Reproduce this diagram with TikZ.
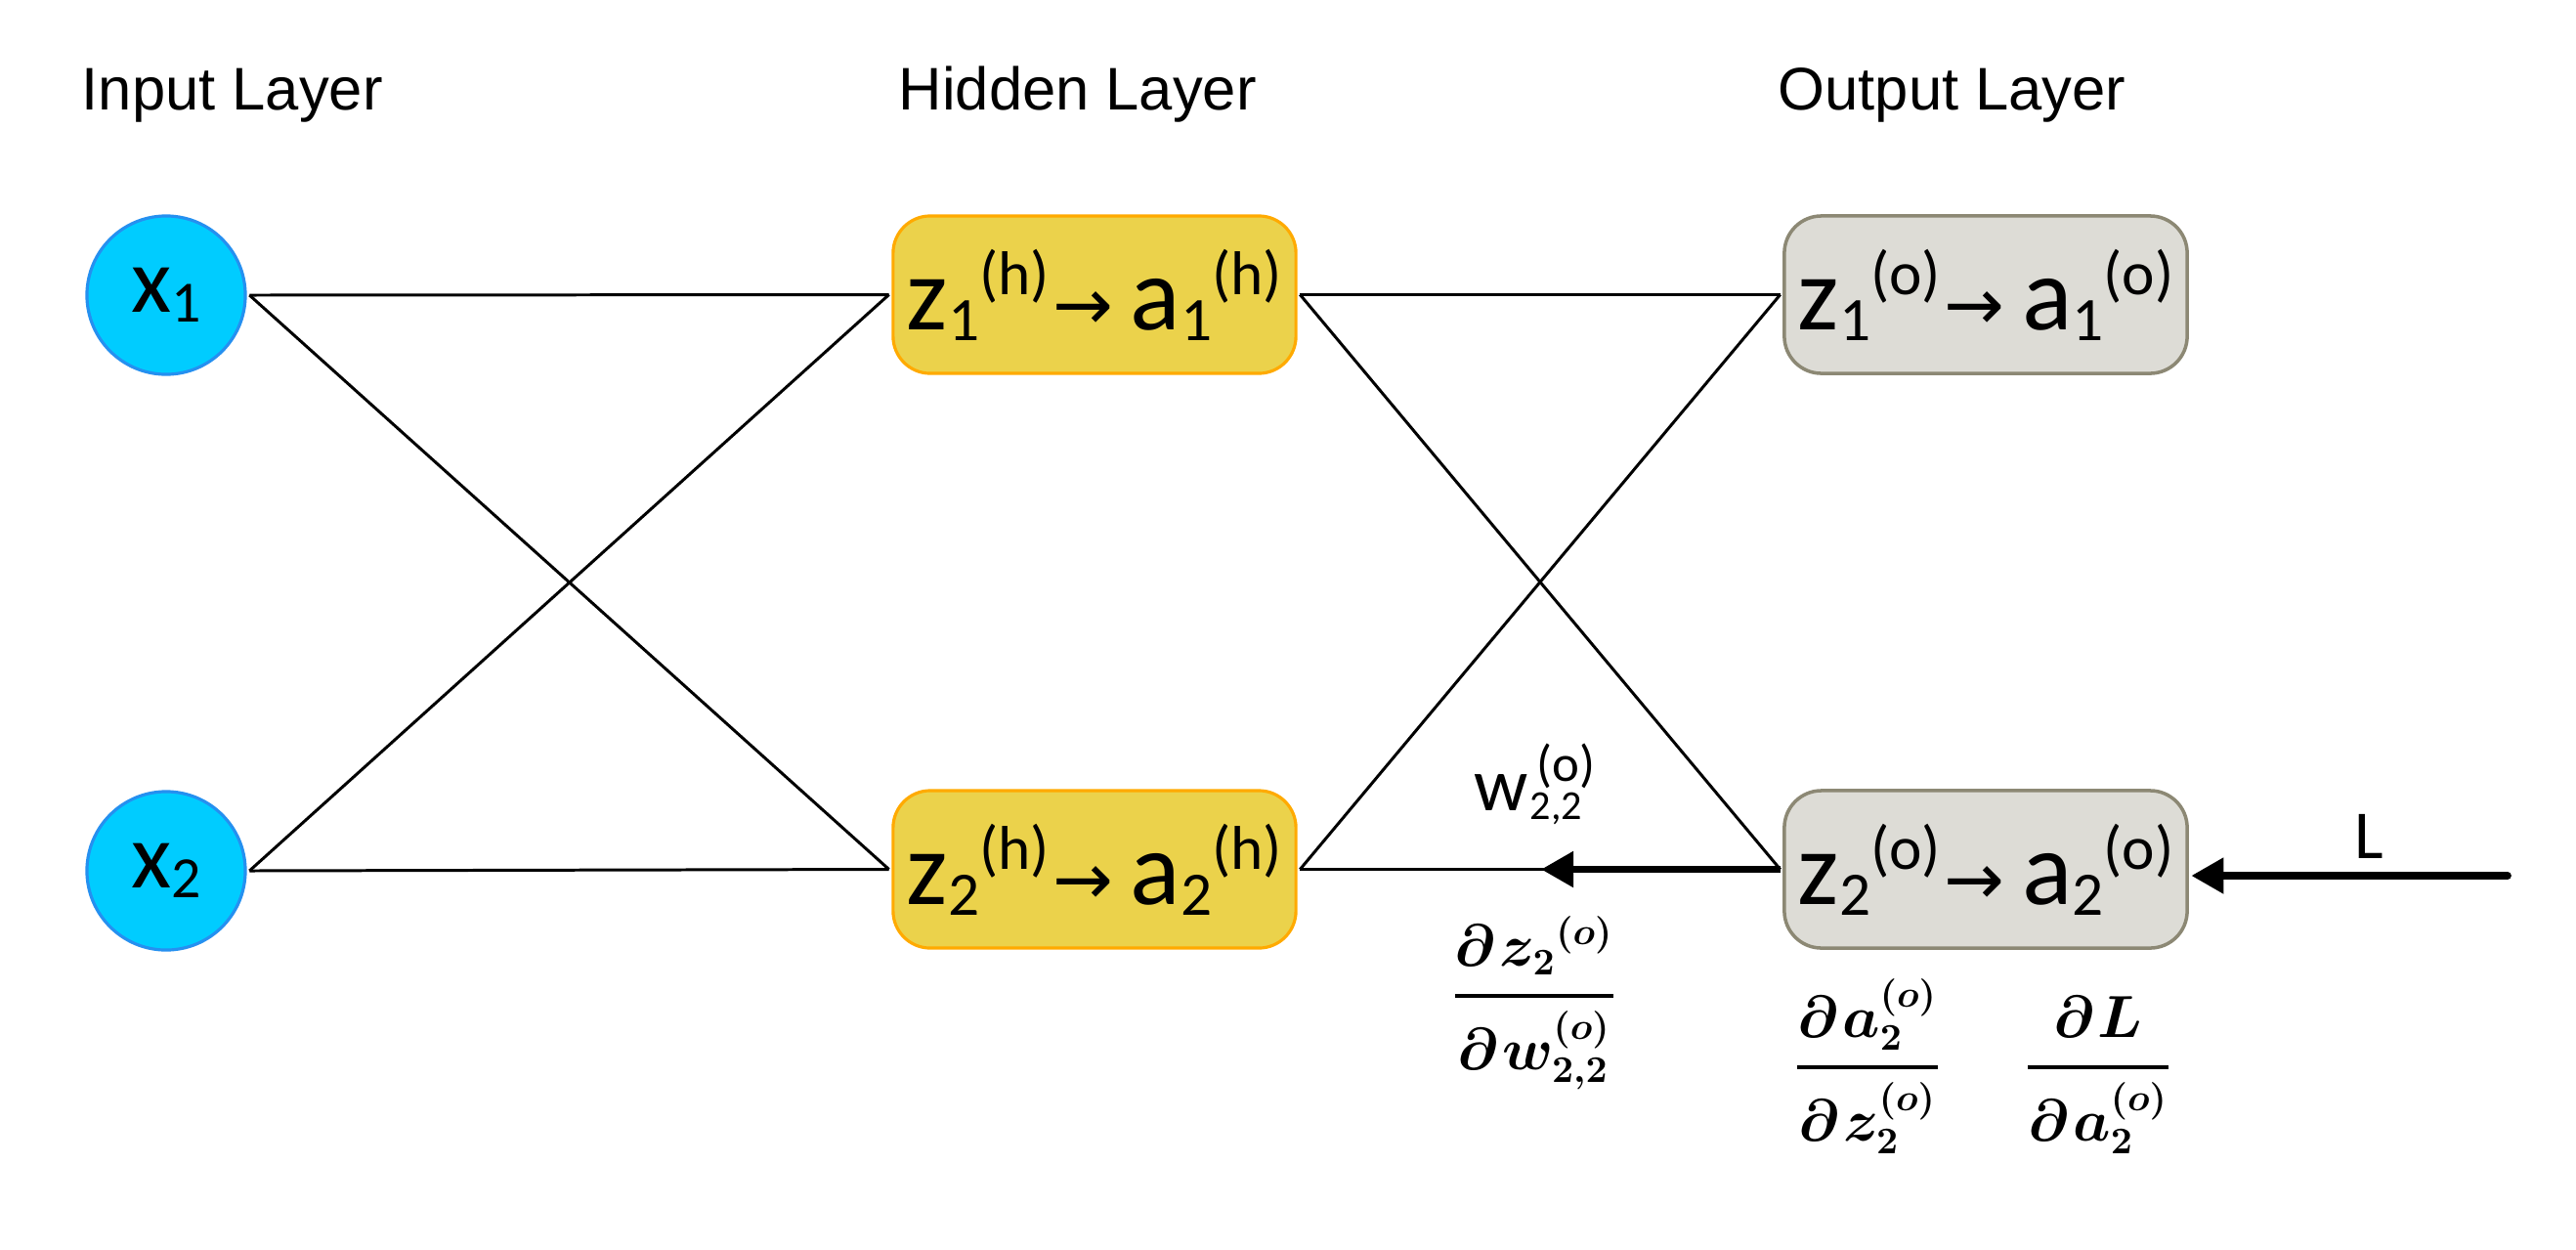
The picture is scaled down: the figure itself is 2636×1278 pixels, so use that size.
\documentclass[tikz,border=0pt]{standalone}
\usepackage{amsmath}
\usepackage{fontspec}
\usetikzlibrary{arrows.meta}
\newfontfamily\carl{Carlito}
\newfontfamily\dejav{DejaVu Sans}
\newfontfamily\arl{Liberation Sans}
\definecolor{cyanfill}{HTML}{00CCFF}
\definecolor{cyanline}{HTML}{2590F0}
\definecolor{hidfill}{HTML}{EBD24B}
\definecolor{hidline}{HTML}{FFAA00}
\definecolor{outfill}{HTML}{DDDCD6}
\definecolor{outline}{HTML}{8C8874}
\newcommand\subsup[2]{{\fontsize{18}{18}\selectfont\raisebox{-3.1pt}{#1}\raisebox{10.2pt}{(#2)}}}
\newcommand\bxlab[2]{{\carl{\fontsize{30.5}{31}\selectfont z}\subsup{#1}{#2}\hspace{1pt}{\dejav\fontsize{21}{21}\selectfont →}\hspace{5pt}{\fontsize{30.5}{31}\selectfont a}\subsup{#1}{#2}}}
\newcommand\inlab[1]{{\carl\fontsize{27}{27}\selectfont x\raisebox{-2.8pt}{\fontsize{17}{17}\selectfont #1}}}
\begin{document}
\begin{tikzpicture}[x=0.01cm,y=-0.01cm,
  inp/.style={circle,fill=cyanfill,draw=cyanline,line width=0.9pt,minimum size=1.62cm,inner sep=0pt,outer sep=1.2pt},
  hid/.style={rectangle,rounded corners=10.8pt,fill=hidfill,draw=hidline,line width=0.9pt,minimum width=4.12cm,minimum height=1.61cm,inner sep=0pt,outer sep=1.2pt},
  outl/.style={rectangle,rounded corners=10.8pt,fill=outfill,draw=outline,line width=1pt,minimum width=4.12cm,minimum height=1.61cm,inner sep=0pt,outer sep=1.2pt},
  ttl/.style={anchor=base west,inner sep=0pt,font=\arl\fontsize{17.5}{18}\selectfont},
  conn/.style={draw=black,line width=0.85pt},
  bigarrow/.style={draw=black,line width=2.2pt,-{Triangle[length=9.4pt,width=10pt]}},
  frac/.style={anchor=base,inner sep=0pt,font=\fontsize{16}{16}\selectfont\boldmath},
  lbl/.style={inner sep=0pt,font=\carl}
]
\path[use as bounding box,fill=white] (0,0) rectangle (2636,1278);

% titles
\node[ttl] (tin) at (83,112) {Input Layer};
\node[ttl] (thid) at (919,112) {Hidden Layer};
\node[ttl] (tout) at (1819,112) {Output Layer};

% nodes
\node[inp] (x1) at (170,302) {\inlab{1}};
\node[inp] (x2) at (170,891) {\inlab{2}};
\node[hid] (h1) at (1120,301.5) {\bxlab{1}{h}};
\node[hid] (h2) at (1120,889.5) {\bxlab{2}{h}};
\node[outl] (o1) at (2032,301.5) {\bxlab{1}{o}};
\node[outl] (o2) at (2032,889.5) {\bxlab{2}{o}};

% connectors
\draw[conn] (x1.east) -- (h1.west);
\draw[conn] (x1.east) -- (h2.west);
\draw[conn] (x2.east) -- (h1.west);
\draw[conn] (x2.east) -- (h2.west);
\draw[conn] (h1.east) -- (o1.west);
\draw[conn] (h1.east) -- (o2.west);
\draw[conn] (h2.east) -- (o1.west);
\draw[conn] (h2.east) -- (o2.west);

% backprop arrows
\coordinate (wtip) at (1577,889.5);
\draw[bigarrow] (o2.west) -- (wtip);
\coordinate (Lst) at (2566,896);
\draw[bigarrow,line cap=round] (Lst) -- (Lst -| o2.east);

% labels
\node[lbl,anchor=base] (L) at (2424,878) {\fontsize{20}{20}\selectfont L};
\node[lbl,anchor=base west] (w) at (1508,829) {\fontsize{22}{22}\selectfont w\hspace{0.5pt}\rlap{\raisebox{-2.6pt}{\fontsize{12}{12}\selectfont 2,2}}\hspace{2pt}\raisebox{8.5pt}{\fontsize{15}{15}\selectfont (o)}};

\node[frac] (f1) at (1570,1034) {$\genfrac{}{}{1.3pt}{0}{\partial\mkern1mu{z_2}^{(o)}}{\partial\mkern1mu w_{2,2}^{(o)}}$};
\node[frac] (f2) at (1911,1107) {$\genfrac{}{}{1.3pt}{0}{\partial\mkern1mu a_2^{(o)}}{\partial\mkern1mu z_2^{(o)}}$};
\node[frac] (f3) at (2147,1107) {$\genfrac{}{}{1.3pt}{0}{\partial\mkern1mu L}{\partial\mkern1mu a_2^{(o)}}$};
\end{tikzpicture}
\end{document}
